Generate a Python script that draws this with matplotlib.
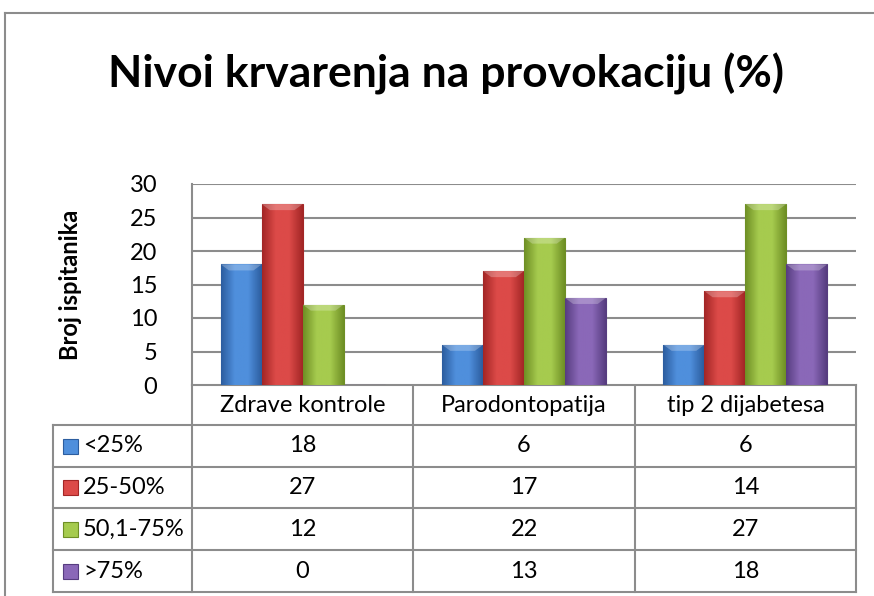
import numpy as np
import matplotlib
matplotlib.use("Agg")
import matplotlib.pyplot as plt
from matplotlib.colors import LinearSegmentedColormap

plt.rcParams["font.family"] = ["Lato", "DejaVu Sans"]

title = "Nivoi krvarenja na provokaciju (%)"
y_label = "Broj ispitanika"
categories = ["Zdrave kontrole", "Parodontopatija", "tip 2 dijabetesa"]
series_names = ["<25%", "25-50%", "50,1-75%", ">75%"]
lt25 = [18, 6, 6]
s25_50 = [27, 17, 14]
s50_75 = [12, 22, 27]
gt75 = [0, 13, 18]
series_values = [lt25, s25_50, s50_75, gt75]
y_ticks = [0, 5, 10, 15, 20, 25, 30]

# (dark edge, light centre) per series
palette = [
    ("#2c5d9f", "#4f8fdc"),
    ("#a32626", "#dc4a48"),
    ("#6f8f25", "#a6cb4e"),
    ("#573d80", "#8a68b8"),
]

W, H = 874, 596
fig = plt.figure(figsize=(W / 100, H / 100), dpi=100)

# overlay in pixel coordinates for frame + table
fa = fig.add_axes([0, 0, 1, 1])
fa.set_xlim(0, W)
fa.set_ylim(H, 0)
fa.axis("off")

grid_c = "#8c8c8c"
fa.plot([5, 874], [13, 13], color=grid_c, lw=1.5)
fa.plot([5, 5], [13, 596], color=grid_c, lw=1.5)

fa.text(446, 74, title, ha="center", va="center", fontsize=32, fontweight="bold")

# chart axes
px_left, px_right, px_top, px_bottom = 192, 856, 184, 385
ax = fig.add_axes([px_left / W, 1 - px_bottom / H,
                   (px_right - px_left) / W, (px_bottom - px_top) / H])
ax.set_xlim(0, 3)
ax.set_ylim(0, 30)
ax.set_yticks(y_ticks)
ax.tick_params(axis="y", length=0, pad=25, labelsize=17)
ax.set_xticks([])
for s in ["top", "right", "bottom"]:
    ax.spines[s].set_visible(False)
ax.spines["left"].set_color(grid_c)
ax.spines["left"].set_linewidth(1.5)
ax.yaxis.grid(True, color=grid_c, lw=1.5)
ax.set_axisbelow(True)
ax.set_ylabel(y_label, fontsize=17, fontweight="bold", labelpad=34)

bw = 0.185
x = np.arange(3) + 0.5
for i, (vals, (dark, light)) in enumerate(zip(series_values, palette)):
    pos = x + (i - 1.5) * bw
    bars = ax.bar(pos, vals, width=bw, color=light, edgecolor=dark, lw=0.8, zorder=2)
    cmap = LinearSegmentedColormap.from_list("g", [dark, light, light, dark])
    grad = np.linspace(0, 1, 64).reshape(1, -1)
    for b in bars:
        if b.get_height() <= 0:
            continue
        bx, by = b.get_x(), b.get_y()
        im = ax.imshow(grad, cmap=cmap, aspect="auto", zorder=3,
                       extent=[bx, bx + b.get_width(), by, by + b.get_height()])
        im.set_clip_path(b)
        # top bevel highlight
        ax.fill([bx, bx + b.get_width(), bx + b.get_width() * 0.8, bx + b.get_width() * 0.2],
                [by + b.get_height()] * 2 + [by + b.get_height() - 0.9] * 2,
                color="white", alpha=0.25, lw=0, zorder=4)
ax.set_xlim(0, 3)
ax.set_ylim(0, 30)

# data table
col_x = [53, 192, 413, 635, 856]
row_y = [385, 425, 467, 508, 550, 592]
tc = "#8c8c8c"
fa.plot([192, 856], [385, 385], color=tc, lw=1.5)
for yy in row_y[1:]:
    fa.plot([53, 856], [yy, yy], color=tc, lw=1.5)
fa.plot([53, 53], [425, 592], color=tc, lw=1.5)
for xx in col_x[1:]:
    fa.plot([xx, xx], [385, 592], color=tc, lw=1.5)

for j, cat in enumerate(categories):
    cx = (col_x[j + 1] + col_x[j + 2]) / 2
    fa.text(cx, 405, cat, ha="center", va="center", fontsize=17)
for i, name in enumerate(series_names):
    cy = (row_y[i + 1] + row_y[i + 2]) / 2
    dark, light = palette[i]
    fa.add_patch(plt.Rectangle((63, cy - 7.5), 15, 15, facecolor=light, edgecolor=dark, lw=0.8))
    fa.text(83, cy, name, ha="left", va="center", fontsize=17)
    for j in range(3):
        cx = (col_x[j + 1] + col_x[j + 2]) / 2
        fa.text(cx, cy, str(series_values[i][j]), ha="center", va="center", fontsize=17)

fig.savefig("out.png", dpi=100)
